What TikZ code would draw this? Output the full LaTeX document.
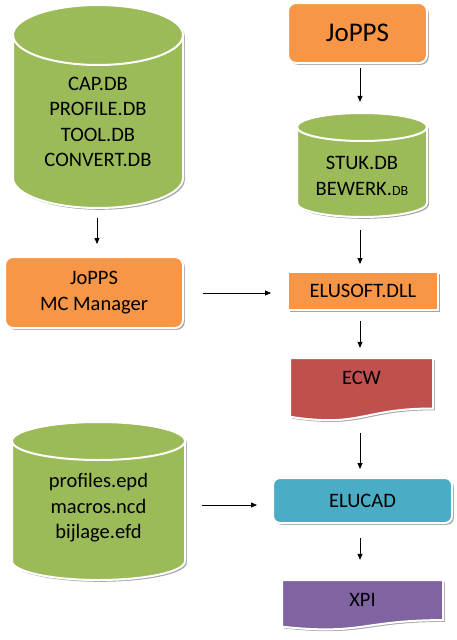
\documentclass[tikz,border=0pt]{standalone}
\usepackage{fontspec}
\setmainfont{Carlito}
\usetikzlibrary{shadows,arrows.meta,calc}
\definecolor{ogreen}{HTML}{9BBB59}
\definecolor{oorange}{HTML}{F79646}
\definecolor{ored}{HTML}{C0504D}
\definecolor{oblue}{HTML}{4BACC6}
\definecolor{opurple}{HTML}{8064A2}
\begin{document}
\begin{tikzpicture}[x=1pt,y=1pt,
  shad/.style={drop shadow={shadow xshift=1.8pt,shadow yshift=-1.8pt,opacity=0.35,fill=black}},
  fig/.style={draw=white,line width=2pt,shad},
  txt/.style={align=center,font=\fontsize{20.5}{25.5}\selectfont,inner sep=0pt},
  box/.style={fig,txt,minimum width=#1},
  ghost/.style={inner sep=0pt},
  arr/.style={-{Triangle[length=6pt,width=5pt]},line width=0.8pt}]
\useasboundingbox (0,0) rectangle (457,-640);

% ---- cylinder 1
\path[fig,fill=ogreen] (13,-35) -- (13,-178) arc[start angle=180,end angle=360,x radius=85pt,y radius=30pt]
  -- (183,-35) arc[start angle=0,end angle=180,x radius=85pt,y radius=30pt] -- cycle;
\draw[white,line width=2pt] (13,-35) arc[start angle=180,end angle=360,x radius=85pt,y radius=30pt];
\node[ghost,minimum width=170pt,minimum height=203pt] (c1) at (98,-106.5) {};
\node[txt] (c1t) at (98,-122) {CAP.DB\\PROFILE.DB\\TOOL.DB\\CONVERT.DB};

% ---- cylinder 2
\path[fig,fill=ogreen] (297,-127) -- (297,-203) arc[start angle=180,end angle=360,x radius=65pt,y radius=14pt]
  -- (427,-127) arc[start angle=0,end angle=180,x radius=65pt,y radius=14pt] -- cycle;
\draw[white,line width=2pt] (297,-127) arc[start angle=180,end angle=360,x radius=65pt,y radius=14pt];
\node[ghost,minimum width=130pt,minimum height=104pt] (c2) at (362,-165) {};
\node[txt] (c2t) at (362,-176) {STUK.DB\\BEWERK.{\fontsize{14}{16}\selectfont DB}};

% ---- cylinder 3
\path[fig,fill=ogreen] (12,-441) -- (12,-561) arc[start angle=180,end angle=360,x radius=86.5pt,y radius=19pt]
  -- (185,-441) arc[start angle=0,end angle=180,x radius=86.5pt,y radius=19pt] -- cycle;
\draw[white,line width=2pt] (12,-441) arc[start angle=180,end angle=360,x radius=86.5pt,y radius=19pt];
\node[ghost,minimum width=173pt,minimum height=158pt] (c3) at (98.5,-501) {};
\node[txt] (c3t) at (98.5,-508) {profiles.epd\\macros.ncd\\bijlage.efd};

% ---- boxes
\node[box=139pt,minimum height=60pt,rounded corners=8pt,fill=oorange,font=\fontsize{27}{30}\selectfont] (jopps) at (357.5,-33) {JoPPS};
\node[box=178pt,minimum height=71pt,rounded corners=8pt,fill=oorange] (mc) at (94,-292.5) {JoPPS\\MC Manager};
\node[box=150pt,minimum height=38pt,fill=oorange] (dll) at (363,-291) {ELUSOFT.DLL};
\node[box=179pt,minimum height=45pt,rounded corners=7pt,fill=oblue] (elucad) at (362.5,-500.5) {ELUCAD};

% ---- documents
\path[fig,fill=ored] (290,-358) -- (433,-358) -- (433,-408.5)
  .. controls (361.5,-408.5) and (361.5,-427.8) .. (290,-416.8) -- cycle;
\node[ghost,minimum width=143pt,minimum height=59pt] (ecw) at (361.5,-387.5) {};
\node[txt] (ecwt) at (361.5,-378) {ECW};

\path[fig,fill=opurple] (282,-580) -- (443,-580) -- (443,-620.1)
  .. controls (362.5,-620.1) and (362.5,-635.4) .. (282,-626.7) -- cycle;
\node[ghost,minimum width=161pt,minimum height=47pt] (xpi) at (362.5,-603.5) {};
\node[txt] (xpit) at (362.5,-600) {XPI};

% ---- connectors
\draw[arr,shorten <=10pt,shorten >=12pt] (c1.south -| 97,0) -- (mc.north -| 97,0);
\draw[arr,shorten <=4pt,shorten >=11pt] (jopps.south -| 360,0) -- (c2.north -| 360,0);
\draw[arr,shorten <=13pt,shorten >=7pt] (c2.south -| 360,0) -- (dll.north -| 360,0);
\draw[arr,shorten <=19pt,shorten >=16pt] (mc.east |- 0,-293) -- (dll.west |- 0,-293);
\draw[arr,shorten <=10pt,shorten >=10pt] (dll.south -| 360,0) -- (ecw.north -| 360,0);
\draw[arr,shorten <=16pt,shorten >=8pt] (ecw.south -| 360,0) -- (elucad.north -| 360,0);
\draw[arr,shorten <=17pt,shorten >=15pt] (c3.east |- 0,-505) -- (elucad.west |- 0,-505);
\draw[arr,shorten <=14pt,shorten >=20pt] (elucad.south -| 360,0) -- (xpi.north -| 360,0);
\end{tikzpicture}
\end{document}
